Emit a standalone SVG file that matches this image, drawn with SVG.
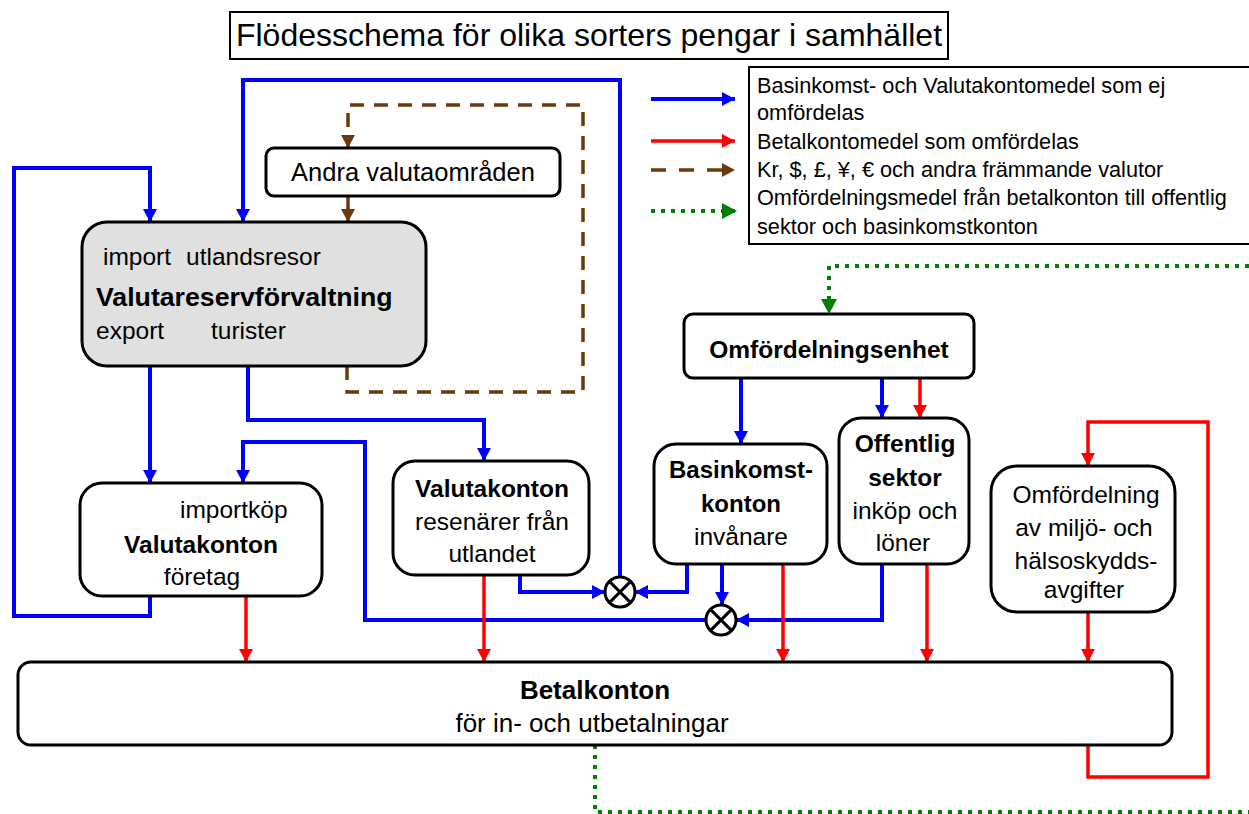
<svg xmlns="http://www.w3.org/2000/svg" width="1249" height="814" viewBox="0 0 1249 814">
<defs>
<style>
text{font-family:"Liberation Sans",Arial,sans-serif;fill:#000}
.t{font-size:24.5px}
.b{font-size:24.5px;font-weight:bold}
.lg{font-size:21.7px}
.box{fill:#fff;stroke:#000;stroke-width:3}
.blue{fill:none;stroke:#0000ff;stroke-width:4}
.red{fill:none;stroke:#ff0000;stroke-width:3.5}
.brown{fill:none;stroke:#6b3a0c;stroke-width:3.5;stroke-dasharray:14 10}
.green{fill:none;stroke:#008000;stroke-width:4;stroke-dasharray:4 6}
.mx{fill:#fff;stroke:#000;stroke-width:3}
</style>
<marker id="ab" markerUnits="userSpaceOnUse" markerWidth="14" markerHeight="14" refX="13" refY="7" orient="auto"><path d="M0,0 L13,7 L0,14 z" fill="#0000ff"/></marker>
<marker id="ar" markerUnits="userSpaceOnUse" markerWidth="14" markerHeight="14" refX="13" refY="7" orient="auto"><path d="M0,0 L13,7 L0,14 z" fill="#ff0000"/></marker>
<marker id="an" markerUnits="userSpaceOnUse" markerWidth="14" markerHeight="14" refX="13" refY="7" orient="auto"><path d="M0,0 L13,7 L0,14 z" fill="#6b3a0c"/></marker>
<marker id="ag" markerUnits="userSpaceOnUse" markerWidth="16" markerHeight="16" refX="15" refY="8" orient="auto"><path d="M0,0 L15,8 L0,16 z" fill="#008000"/></marker>
</defs>
<rect width="1249" height="814" fill="#fff"/>

<g id="title">
<rect x="230" y="12" width="718" height="47" fill="#fff" stroke="#000" stroke-width="2"/>
<text x="589" y="46" font-size="32" text-anchor="middle">Flödesschema för olika sorters pengar i samhället</text>
</g>

<g id="legend">
<rect x="749" y="67" width="510" height="177" fill="#fff" stroke="#000" stroke-width="2"/>
<text class="lg" x="757" y="93">Basinkomst- och Valutakontomedel som ej</text>
<text class="lg" x="757" y="120">omfördelas</text>
<text class="lg" x="757" y="149">Betalkontomedel som omfördelas</text>
<text class="lg" x="757" y="177">Kr, $, £, ¥, € och andra främmande valutor</text>
<text class="lg" x="757" y="205">Omfördelningsmedel från betalkonton till offentlig</text>
<text class="lg" x="757" y="234">sektor och basinkomstkonton</text>
<path class="blue" d="M651,99 H735" marker-end="url(#ab)"/>
<path class="red" d="M651,141 H735" marker-end="url(#ar)"/>
<path class="brown" d="M651,170 H735" style="stroke-dasharray:15 13" marker-end="url(#an)"/>
<path class="green" d="M651,211 H737" marker-end="url(#ag)"/>
</g>

<g id="connectors">
<path class="blue" d="M150,596 V616 H14 V168 H150 V222" marker-end="url(#ab)"/>
<path class="blue" d="M620,577 V80 H243 V222" marker-end="url(#ab)"/>
<path class="blue" d="M150,366 V483" marker-end="url(#ab)"/>
<path class="blue" d="M248,366 V420 H484 V461" marker-end="url(#ab)"/>
<path class="blue" d="M706,620 H365 V442 H243 V483" marker-end="url(#ab)"/>
<path class="blue" d="M520,575 V592 H605" marker-end="url(#ab)"/>
<path class="blue" d="M687,564 V592 H635" marker-end="url(#ab)"/>
<path class="blue" d="M722,564 V605" marker-end="url(#ab)"/>
<path class="blue" d="M882,564 V620 H736" marker-end="url(#ab)"/>
<path class="blue" d="M741,378 V444" marker-end="url(#ab)"/>
<path class="blue" d="M882,378 V418" marker-end="url(#ab)"/>
<path class="red" d="M920,378 V418" marker-end="url(#ar)"/>
<path class="red" d="M246,596 V662" marker-end="url(#ar)"/>
<path class="red" d="M484,575 V662" marker-end="url(#ar)"/>
<path class="red" d="M783,564 V662" marker-end="url(#ar)"/>
<path class="red" d="M927,564 V662" marker-end="url(#ar)"/>
<path class="red" d="M1088,612 V662" marker-end="url(#ar)"/>
<path class="red" d="M1088,745 V777 H1208 V422 H1088 V466" marker-end="url(#ar)"/>
<path class="brown" d="M347,366 V392 H583 V105 H348 V148" marker-end="url(#an)"/>
<path class="brown" d="M348,196 V222" style="stroke-dasharray:none" marker-end="url(#an)"/>
<path class="green" d="M595,745 V812 H1249"/>
<path class="green" d="M1249,266 H829 V314" marker-end="url(#ag)"/>
</g>

<g id="mix1">
<circle class="mx" cx="620" cy="592" r="15"/>
<path d="M609.4,581.4 L630.6,602.6 M630.6,581.4 L609.4,602.6" stroke="#000" stroke-width="3"/>
</g>
<g id="mix2">
<circle class="mx" cx="721" cy="620" r="15"/>
<path d="M710.4,609.4 L731.6,630.6 M731.6,609.4 L710.4,630.6" stroke="#000" stroke-width="3"/>
</g>

<g id="andra">
<rect class="box" x="266" y="148" width="294" height="48" rx="8"/>
<text x="413" y="181" font-size="25.5" text-anchor="middle">Andra valutaområden</text>
</g>

<g id="valutareserv">
<rect x="82" y="222" width="344" height="144" rx="25" fill="#e0e0e0" stroke="#000" stroke-width="3"/>
<text class="t" x="103" y="265">import</text>
<text class="t" x="186" y="265">utlandsresor</text>
<text x="96" y="306" font-size="26.7" font-weight="bold">Valutareservförvaltning</text>
<text class="t" x="96" y="339">export</text>
<text class="t" x="211" y="339">turister</text>
</g>

<g id="valutakonton-foretag">
<rect class="box" x="80" y="483" width="242" height="113" rx="22"/>
<text class="t" x="180" y="518">importköp</text>
<text class="b" x="201" y="553" text-anchor="middle">Valutakonton</text>
<text class="t" x="202" y="585" text-anchor="middle">företag</text>
</g>

<g id="valutakonton-resenarer">
<rect class="box" x="393" y="461" width="196" height="114" rx="22"/>
<text class="b" x="492" y="497" text-anchor="middle">Valutakonton</text>
<text class="t" x="492" y="530" text-anchor="middle">resenärer från</text>
<text class="t" x="492" y="562" text-anchor="middle">utlandet</text>
</g>

<g id="omfordelningsenhet">
<rect class="box" x="684" y="314" width="290" height="64" rx="9"/>
<text x="829" y="358" font-size="24.5" font-weight="bold" text-anchor="middle">Omfördelningsenhet</text>
</g>

<g id="basinkomstkonton">
<rect class="box" x="654" y="444" width="173" height="120" rx="22"/>
<text x="741" y="478" font-size="24" font-weight="bold" text-anchor="middle">Basinkomst-</text>
<text x="741" y="512" font-size="24" font-weight="bold" text-anchor="middle">konton</text>
<text class="t" x="741" y="545" text-anchor="middle">invånare</text>
</g>

<g id="offentlig-sektor">
<rect class="box" x="839" y="418" width="130" height="146" rx="22"/>
<text class="b" x="905" y="452" text-anchor="middle">Offentlig</text>
<text class="b" x="905" y="486" text-anchor="middle">sektor</text>
<text class="t" x="905" y="519" text-anchor="middle">inköp och</text>
<text class="t" x="903" y="551" text-anchor="middle">löner</text>
</g>

<g id="omfordelning-miljo">
<rect class="box" x="991" y="466" width="184" height="146" rx="26"/>
<text class="t" x="1086" y="503" text-anchor="middle">Omfördelning</text>
<text class="t" x="1084" y="536" text-anchor="middle">av miljö- och</text>
<text class="t" x="1086" y="569" text-anchor="middle">hälsoskydds-</text>
<text class="t" x="1084" y="598" text-anchor="middle">avgifter</text>
</g>

<g id="betalkonton">
<rect class="box" x="18" y="662" width="1154" height="83" rx="13"/>
<text x="595" y="699" font-size="26" font-weight="bold" text-anchor="middle">Betalkonton</text>
<text x="592" y="732" font-size="26" text-anchor="middle">för in- och utbetalningar</text>
</g>
</svg>
